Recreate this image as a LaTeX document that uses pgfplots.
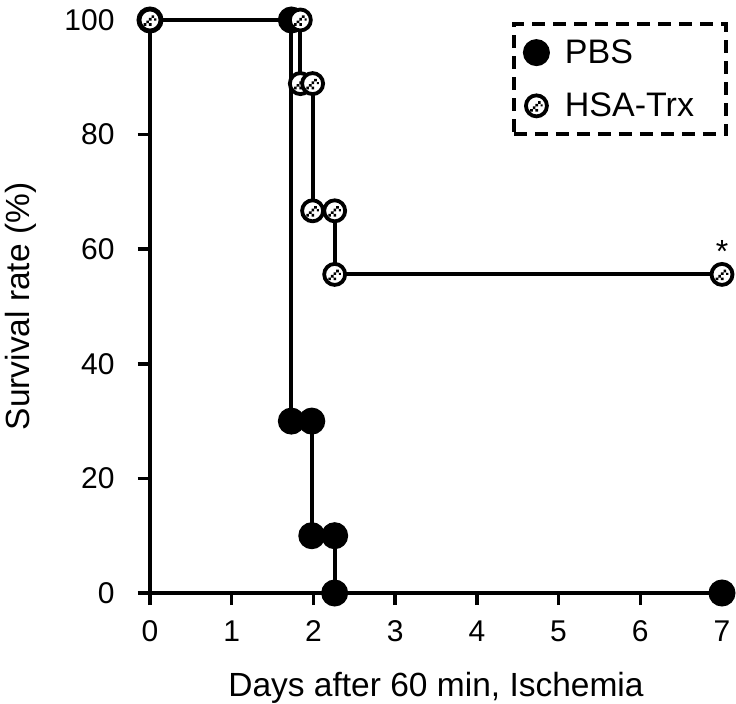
\documentclass[border=0pt]{standalone}
\usepackage{pgfplots}
\pgfplotsset{compat=1.18}
\usepackage{fontspec}
\setmainfont{Liberation Sans}
\pgfdeclareplotmark{hsa}{%
  \pgfsetlinewidth{3.8pt}%
  \pgfsetfillcolor{white}%
  \pgfpathcircle{\pgfpointorigin}{\pgfplotmarksize}%
  \pgfusepathqfillstroke
  \pgfsetfillcolor{black}%
  \pgfpathrectangle{\pgfpoint{-0.6\pgfplotmarksize}{-0.55\pgfplotmarksize}}{\pgfpoint{0.25\pgfplotmarksize}{0.25\pgfplotmarksize}}%
  \pgfpathrectangle{\pgfpoint{-0.35\pgfplotmarksize}{-0.3\pgfplotmarksize}}{\pgfpoint{0.25\pgfplotmarksize}{0.25\pgfplotmarksize}}%
  \pgfpathrectangle{\pgfpoint{-0.1\pgfplotmarksize}{-0.05\pgfplotmarksize}}{\pgfpoint{0.25\pgfplotmarksize}{0.25\pgfplotmarksize}}%
  \pgfpathrectangle{\pgfpoint{0.15\pgfplotmarksize}{0.2\pgfplotmarksize}}{\pgfpoint{0.25\pgfplotmarksize}{0.25\pgfplotmarksize}}%
  \pgfpathrectangle{\pgfpoint{-0.1\pgfplotmarksize}{-0.55\pgfplotmarksize}}{\pgfpoint{0.25\pgfplotmarksize}{0.25\pgfplotmarksize}}%
  \pgfpathrectangle{\pgfpoint{0.4\pgfplotmarksize}{-0.05\pgfplotmarksize}}{\pgfpoint{0.2\pgfplotmarksize}{0.2\pgfplotmarksize}}%
  \pgfusepathqfill
}
\begin{document}
\begin{tikzpicture}
\begin{axis}[
  scale only axis, width=572pt, height=573pt,
  xmin=0, xmax=7, ymin=0, ymax=100,
  axis lines*=left,
  axis line style={line width=4pt, black},
  clip=false,
  xtick={0,1,2,3,4,5,6,7}, ytick={0,20,40,60,80,100},
  xticklabels={0,1,2,3,4,5,6,7},
  yticklabels={0,20,40,60,80,100},
  tick align=outside,
  major tick length=12pt,
  major tick style={line width=3.5pt, black},
  ticklabel style={font=\fontsize{30}{36}\selectfont},
  xticklabel style={yshift=-12pt},
  yticklabel style={xshift=-20pt},
  label style={font=\fontsize{33.5}{40}\selectfont},
  xlabel={Days after 60 min, Ischemia},
  ylabel={Survival rate (\%)},
  xlabel style={at={(axis description cs:0.5,-0.18)}, anchor=base, inner sep=0pt},
  ylabel style={at={(axis description cs:-0.2535,0.5)}, anchor=north, inner sep=0pt},
  legend style={at={(rel axis cs:1,1)}, anchor=north east, xshift=6pt, yshift=-2pt,
    draw=black, line width=4pt, dash pattern=on 13pt off 8pt,
    inner xsep=10pt, inner ysep=14pt, row sep=24pt,
    font=\fontsize{34}{40}\selectfont, legend cell align=left,
    nodes={inner sep=2pt},
    /tikz/every odd column/.style={column sep=14pt}},
  legend image post style={solid},
  legend image code/.code={\draw[#1, draw=none] plot coordinates {(0pt,0pt)};},
]
% axis tick marks (12pt outward) and left extension of the x axis line
\addplot[black, line width=4pt, forget plot] coordinates {(-0.147,0) (0,0)};
\addplot[black, line width=3.5pt, forget plot] coordinates {(-0.147,20) (0,20)};
\addplot[black, line width=3.5pt, forget plot] coordinates {(-0.147,40) (0,40)};
\addplot[black, line width=3.5pt, forget plot] coordinates {(-0.147,60) (0,60)};
\addplot[black, line width=3.5pt, forget plot] coordinates {(-0.147,80) (0,80)};
\addplot[black, line width=3.5pt, forget plot] coordinates {(0,0) (0,-2.094)};
\addplot[black, line width=3.5pt, forget plot] coordinates {(1,0) (1,-2.094)};
\addplot[black, line width=3.5pt, forget plot] coordinates {(2,0) (2,-2.094)};
\addplot[black, line width=3.5pt, forget plot] coordinates {(3,0) (3,-2.094)};
\addplot[black, line width=3.5pt, forget plot] coordinates {(4,0) (4,-2.094)};
\addplot[black, line width=3.5pt, forget plot] coordinates {(5,0) (5,-2.094)};
\addplot[black, line width=3.5pt, forget plot] coordinates {(6,0) (6,-2.094)};
\addplot[black, line width=3.5pt, forget plot] coordinates {(7,0) (7,-2.094)};
\addplot[black, line width=4pt, mark=*, mark size=12.5pt, mark options={solid, fill=black, draw=black, line width=2pt}]
  coordinates {(0,100) (1.73,100) (1.73,30) (1.98,30) (1.98,10) (2.26,10) (2.26,0) (7,0)};
\addlegendentry{PBS}
\addplot[black, line width=4pt, mark=hsa, mark size=10.5pt, mark options={solid, draw=black}]
  coordinates {(0,100) (1.84,100) (1.84,88.9) (1.99,88.9) (1.99,66.7) (2.26,66.7) (2.26,55.6) (7,55.6)};
\addlegendentry{HSA-Trx\hspace*{20pt}}
\node[anchor=south, inner sep=0pt, font=\fontsize{32}{38}\selectfont] at (axis cs:7,55.6) [yshift=12pt] {*};
\path (rel axis cs:0,0) ++(-150pt,-110pt);
\path (rel axis cs:1,1) ++(14pt,20pt);
\end{axis}
\end{tikzpicture}
\end{document}
